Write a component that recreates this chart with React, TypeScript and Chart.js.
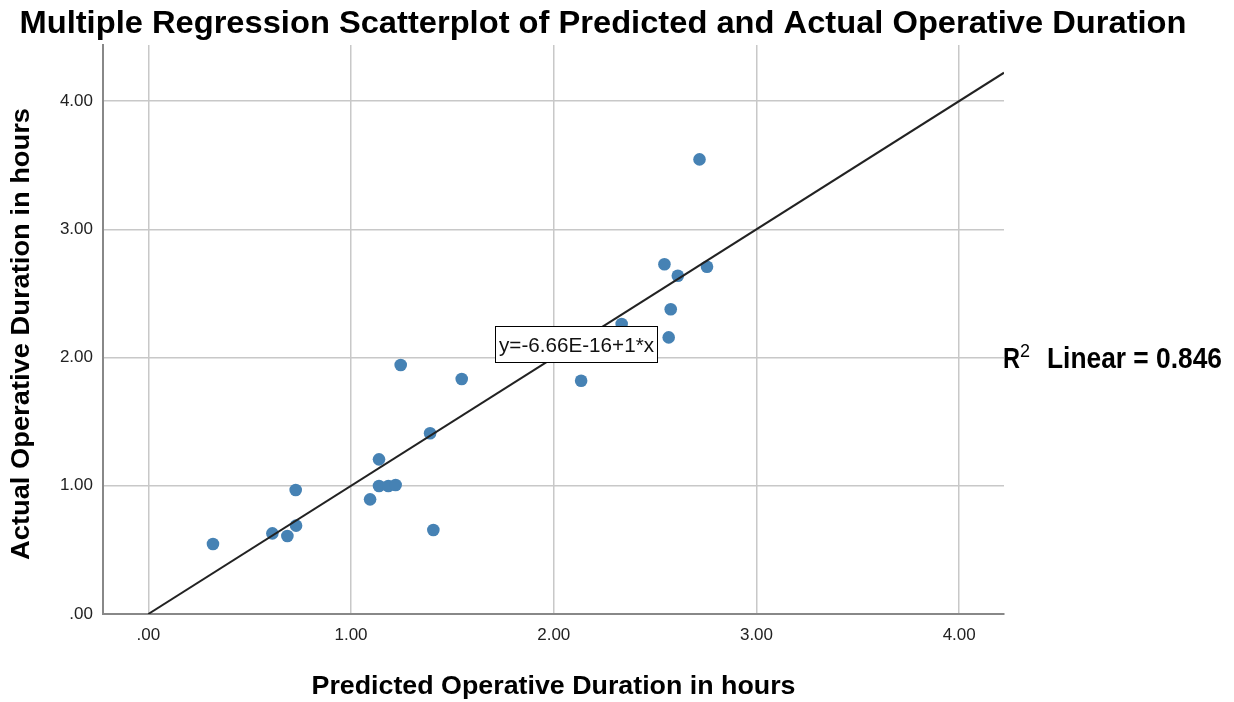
import React, { useEffect, useRef } from "react";
import { Chart, registerables } from "chart.js";

Chart.register(...registerables);

// ---- data ----
const TITLE = "Multiple Regression Scatterplot of Predicted and Actual Operative Duration";
const X_TITLE = "Predicted Operative Duration in hours";
const Y_TITLE = "Actual Operative Duration in hours";

const predicted = [0.319, 0.612, 0.686, 0.729, 0.727, 1.094, 1.138, 1.184, 1.220, 1.138, 1.406, 1.390, 1.245, 1.546, 2.135, 2.335, 2.546, 2.567, 2.577, 2.612, 2.719, 2.756];
const actual = [0.546, 0.629, 0.608, 0.689, 0.967, 0.894, 0.998, 0.998, 1.006, 1.206, 0.655, 1.409, 1.942, 1.832, 1.819, 2.261, 2.727, 2.157, 2.376, 2.638, 3.545, 2.708];

const X_TICKS = [0, 1, 2, 3, 4];
const Y_TICKS = [0, 1, 2, 3, 4];

const FIT_INTERCEPT = -6.66e-16;
const FIT_SLOPE = 1;
const EQ_LABEL = "y=-6.66E-16+1*x";
const R2_VALUE = "0.846";

// axis ranges
const X_MIN = -0.2235;
const X_MAX = 4.221;
const Y_MIN = 0;
const Y_MAX = 4.437;

const FONT = "'Liberation Sans', Arial, Helvetica, sans-serif";

function fitText(ctx: CanvasRenderingContext2D, text: string, x: number, y: number, width: number, font: string, align: CanvasTextAlign) {
  ctx.save();
  ctx.font = font;
  const w = ctx.measureText(text).width;
  const s = width / w;
  ctx.translate(x, y);
  ctx.scale(s, 1);
  ctx.textAlign = align;
  ctx.textBaseline = "alphabetic";
  ctx.fillText(text, 0, 0);
  ctx.restore();
}

const overlayPlugin = {
  id: "overlayText",
  afterDraw(chart: any) {
    const ctx: CanvasRenderingContext2D = chart.ctx;
    const area = chart.chartArea;
    const xs = chart.scales.x;
    const ys = chart.scales.y;
    ctx.save();
    ctx.fillStyle = "#000";
    // main title
    fitText(ctx, TITLE, 603, 33, 1167, `bold 31px ${FONT}`, "center");
    // x axis title
    fitText(ctx, X_TITLE, (area.left + area.right) / 2, 694, 484, `bold 25px ${FONT}`, "center");
    // y axis title (rotated)
    ctx.save();
    ctx.translate(29, 334);
    ctx.rotate(-Math.PI / 2);
    fitText(ctx, Y_TITLE, 0, 0, 452, `bold 25px ${FONT}`, "center");
    ctx.restore();

    // equation box
    const bx = Math.round(xs.getPixelForValue(1.71)) + 0.5;
    const cy = ys.getPixelForValue(2.105);
    const by = Math.round(cy - 18) + 0.5;
    const bw = 162;
    const bh = 36;
    ctx.fillStyle = "#fff";
    ctx.fillRect(bx, by, bw, bh);
    ctx.strokeStyle = "#000";
    ctx.lineWidth = 1;
    ctx.strokeRect(bx, by, bw, bh);
    ctx.fillStyle = "#111";
    fitText(ctx, EQ_LABEL, bx + 3.5, cy + 8, 155, `20px ${FONT}`, "left");

    // R² label
    const ry = ys.getPixelForValue(2.0) + 10;
    const rx = area.right - 1;
    ctx.fillStyle = "#000";
    fitText(ctx, "R", rx, ry, 17, `bold 29px ${FONT}`, "left");
    ctx.font = `18px ${FONT}`;
    ctx.textAlign = "left";
    ctx.fillText("2", rx + 17, ry - 11);
    fitText(ctx, `Linear = ${R2_VALUE}`, rx + 44, ry, 175, `bold 29px ${FONT}`, "left");
    ctx.restore();
  },
};

export default function App() {
  const ref = useRef<HTMLCanvasElement | null>(null);

  useEffect(() => {
    if (!ref.current) return;
    const points = predicted.map((p, i) => ({ x: p, y: actual[i] }));
    const lineX = [0, X_MAX];
    const linePts = lineX.map((x) => ({ x, y: FIT_INTERCEPT + FIT_SLOPE * x }));
    const fmt = (v: any) => (Number(v) === 0 ? ".00" : Number(v).toFixed(2));

    const chart = new Chart(ref.current, {
      type: "scatter",
      data: {
        datasets: [
          {
            type: "line",
            label: "Fit",
            data: linePts,
            borderColor: "#222",
            borderWidth: 2,
            pointRadius: 0,
            showLine: true,
            fill: false,
            order: 0,
          } as any,
          {
            label: "Cases",
            data: points,
            backgroundColor: "#4682b4",
            borderColor: "#4682b4",
            borderWidth: 0,
            pointRadius: 6.3,
            order: 1,
          },
        ],
      },
      options: {
        animation: false,
        responsive: false,
        maintainAspectRatio: false,
        layout: { padding: { top: 45, right: 230, bottom: 0, left: 0 } },
        plugins: {
          legend: { display: false },
          tooltip: { enabled: false },
          title: { display: false },
        },
        scales: {
          x: {
            type: "linear",
            min: X_MIN,
            max: X_MAX,
            afterBuildTicks: (s: any) => {
              s.ticks = X_TICKS.map((v) => ({ value: v }));
            },
            afterFit: (s: any) => {
              s.height = 88;
            },
            grid: { color: "#c8c8c8", lineWidth: 1.5, drawTicks: false },
            border: { display: true, color: "#888", width: 2 },
            ticks: {
              callback: fmt,
              color: "#222",
              padding: 11,
              maxRotation: 0,
              font: { family: FONT, size: 17 },
            },
          },
          y: {
            type: "linear",
            min: Y_MIN,
            max: Y_MAX,
            afterBuildTicks: (s: any) => {
              s.ticks = Y_TICKS.map((v) => ({ value: v }));
            },
            afterFit: (s: any) => {
              s.width = 103;
            },
            grid: { color: "#c8c8c8", lineWidth: 1.5, drawTicks: false },
            border: { display: true, color: "#888", width: 2 },
            ticks: {
              callback: fmt,
              color: "#222",
              padding: 10,
              font: { family: FONT, size: 17 },
            },
          },
        },
      },
      plugins: [overlayPlugin],
    });
    return () => chart.destroy();
  }, []);

  return (
    <div style={{ position: "fixed", left: 0, top: 0, width: 1234, height: 702, background: "#fff" }}>
      <canvas ref={ref} width={1234} height={702} style={{ display: "block", width: 1234, height: 702 }} />
    </div>
  );
}
